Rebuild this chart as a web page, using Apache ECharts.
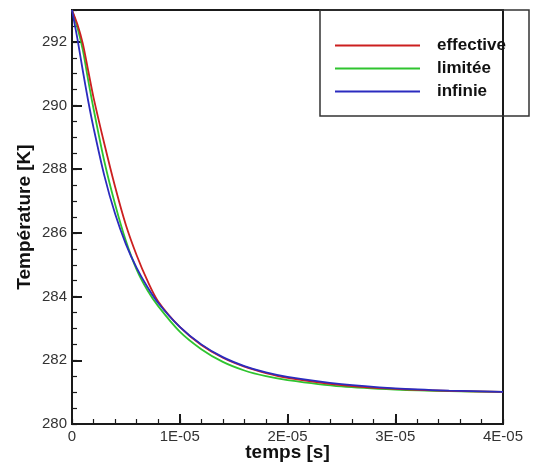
<!DOCTYPE html>
<html>
<head>
<meta charset="utf-8">
<script src="https://cdn.jsdelivr.net/npm/echarts@6/dist/echarts.min.js"></script>
<style>
html,body{margin:0;padding:0;background:#fff;}
#chart{width:548px;height:463px;}
</style>
</head>
<body>
<div id="chart"></div>
<script>
// time in seconds
const timeValues = [0, 5e-7, 1e-6, 1.5e-6, 2e-6, 3e-6, 4e-6, 5e-6, 6e-6, 7e-6, 8e-6, 1e-5, 1.2e-5, 1.4e-5, 1.6e-5, 1.8e-5, 2e-5, 2.5e-5, 3e-5, 3.5e-5, 4e-5];
const effective = [293, 292.55, 291.95, 291.1, 290.25, 288.8, 287.45, 286.25, 285.3, 284.5, 283.85, 283.05, 282.48, 282.08, 281.8, 281.6, 281.45, 281.22, 281.1, 281.04, 281.01];
const limitee  = [293, 292.45, 291.75, 290.8, 289.9, 288.25, 286.9, 285.75, 284.85, 284.2, 283.7, 282.9, 282.35, 281.95, 281.68, 281.5, 281.38, 281.18, 281.08, 281.03, 281.01];
const infinie  = [293, 292.1, 291.1, 290.15, 289.3, 287.8, 286.6, 285.65, 284.9, 284.3, 283.8, 283.05, 282.5, 282.1, 281.82, 281.62, 281.48, 281.25, 281.12, 281.05, 281.01];
const seriesNames = ['effective', 'limitée', 'infinie'];
const xTickLabels = ['0', '1E-05', '2E-05', '3E-05', '4E-05'];
const yTickLabels = ['280', '282', '284', '286', '288', '290', '292'];

const colors = ['#cc1f1f', '#2fc42f', '#2b2bbf'];
const pair = arr => timeValues.map((t, i) => [t, arr[i]]);
const font = '"Liberation Sans", Arial, sans-serif';

const chart = echarts.init(document.getElementById('chart'), null, {renderer: 'canvas'});
const gridPos = {left: 72, right: 45, top: 10, bottom: 39, outerBoundsMode: 'none', containLabel: false};
chart.setOption({
  animation: false,
  backgroundColor: '#fff',
  grid: [
    Object.assign({show: true, borderColor: '#1a1a1a', borderWidth: 2, backgroundColor: 'transparent'}, gridPos),
    Object.assign({show: false}, gridPos)
  ],
  xAxis: [
    {
      type: 'value', gridIndex: 0, min: 0, max: 4e-5, interval: 1e-5,
      name: 'temps [s]', nameLocation: 'middle', nameGap: 19, nameMoveOverlap: false,
      nameTextStyle: {fontFamily: font, fontWeight: 'bold', fontSize: 19, color: '#111'},
      axisLine: {show: true, lineStyle: {color: '#1a1a1a', width: 2}},
      axisTick: {show: true, inside: true, length: 10, lineStyle: {color: '#1a1a1a', width: 2}},
      axisLabel: {fontFamily: font, fontSize: 15, color: '#333', margin: 5,
        formatter: (v, i) => xTickLabels[i] !== undefined ? xTickLabels[i] : ''},
      splitLine: {show: false}
    },
    {
      type: 'value', gridIndex: 1, min: 0, max: 4e-5, interval: 2e-6,
      axisLine: {show: false},
      axisTick: {show: true, inside: true, length: 5, lineStyle: {color: '#1a1a1a', width: 1.2}},
      axisLabel: {show: false}, splitLine: {show: false}
    }
  ],
  yAxis: [
    {
      type: 'value', gridIndex: 0, min: 280, max: 293, interval: 2,
      name: 'Température [K]', nameLocation: 'middle', nameGap: 38, nameMoveOverlap: false,
      nameTextStyle: {fontFamily: font, fontWeight: 'bold', fontSize: 19, color: '#111'},
      axisLine: {show: true, lineStyle: {color: '#1a1a1a', width: 2}},
      axisTick: {show: true, inside: true, length: 10, lineStyle: {color: '#1a1a1a', width: 2}},
      axisLabel: {fontFamily: font, fontSize: 15, color: '#333', margin: 5,
        formatter: (v, i) => yTickLabels[i] !== undefined ? yTickLabels[i] : ''},
      splitLine: {show: false}
    },
    {
      type: 'value', gridIndex: 1, min: 280, max: 293, interval: 0.5,
      axisLine: {show: false},
      axisTick: {show: true, inside: true, length: 5, lineStyle: {color: '#1a1a1a', width: 1.2}},
      axisLabel: {show: false}, splitLine: {show: false}
    }
  ],
  legend: {
    left: 335, top: 37, orient: 'vertical',
    icon: 'rect', itemWidth: 85, itemHeight: 2, itemGap: 6, padding: 0,
    data: seriesNames,
    textStyle: {fontFamily: font, fontWeight: 'bold', fontSize: 17, lineHeight: 16, color: '#111', padding: [0, 0, 0, 12]}
  },
  graphic: [{
    type: 'rect', z: 100, silent: true,
    shape: {x: 320, y: 10, width: 209, height: 106},
    style: {fill: 'none', stroke: '#333', lineWidth: 1.5}
  }],
  series: [
    {name: seriesNames[0], type: 'line', data: pair(effective), symbol: 'none', smooth: 0.3,
     lineStyle: {color: colors[0], width: 1.8}, itemStyle: {color: colors[0]}, z: 3},
    {name: seriesNames[1], type: 'line', data: pair(limitee), symbol: 'none', smooth: 0.3,
     lineStyle: {color: colors[1], width: 1.8}, itemStyle: {color: colors[1]}, z: 2},
    {name: seriesNames[2], type: 'line', data: pair(infinie), symbol: 'none', smooth: 0.3,
     lineStyle: {color: colors[2], width: 1.8}, itemStyle: {color: colors[2]}, z: 4}
  ]
});
</script>
</body>
</html>
